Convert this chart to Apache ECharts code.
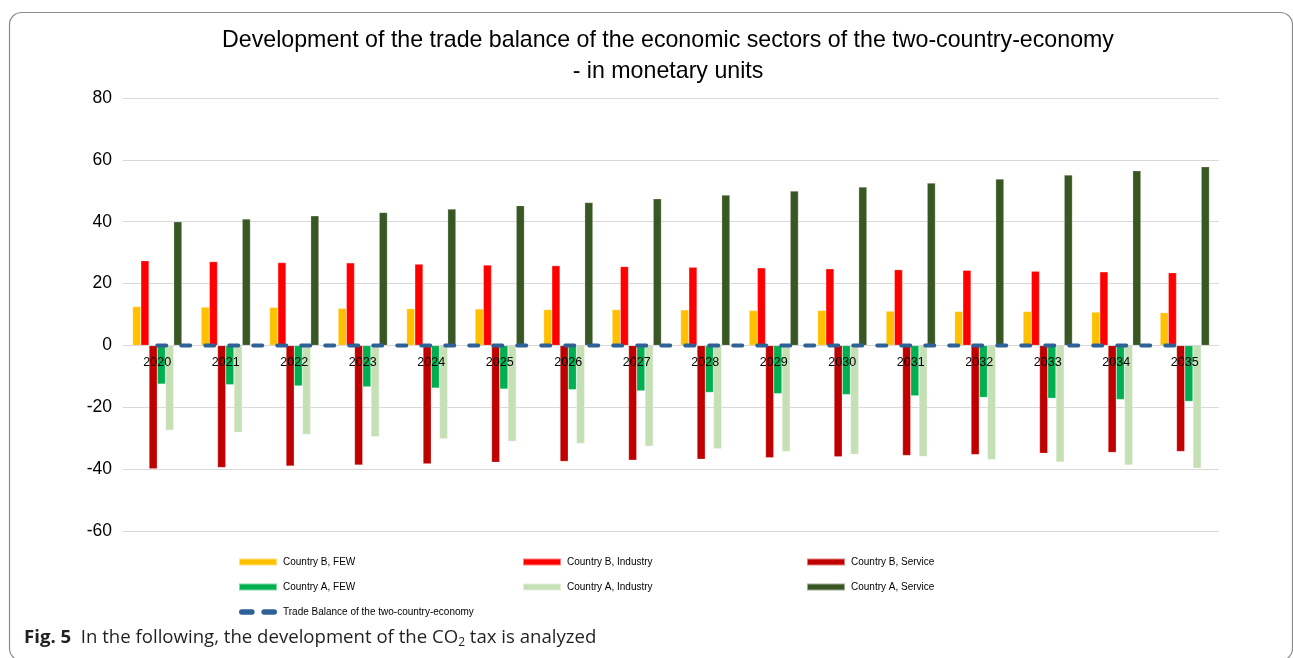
<!DOCTYPE html>
<html>
<head>
<meta charset="utf-8">
<script src="https://cdn.jsdelivr.net/npm/echarts@6/dist/echarts.min.js"></script>
<style>
html,body{margin:0;padding:0;background:#fff;}
#chart{width:1293px;height:658px;}
</style>
</head>
<body>
<div id="chart"></div>
<script>
const years = ['2020','2021','2022','2023','2024','2025','2026','2027','2028','2029','2030','2031','2032','2033','2034','2035'];
const yTicks = [-60,-40,-20,0,20,40,60,80];
const countryB_FEW = [12.6,12.4,12.3,12.0,11.9,11.8,11.6,11.6,11.5,11.3,11.3,11.1,11.0,11.0,10.8,10.6];
const countryB_Industry = [27.4,27.1,26.8,26.7,26.3,26.0,25.8,25.5,25.3,25.1,24.8,24.5,24.3,24.0,23.8,23.5];
const countryB_Service = [-39.9,-39.5,-39.0,-38.7,-38.3,-37.8,-37.5,-37.1,-36.8,-36.3,-36.0,-35.6,-35.3,-34.9,-34.6,-34.3];
const countryA_FEW = [-12.5,-12.7,-13.1,-13.4,-13.8,-14.1,-14.3,-14.7,-15.2,-15.6,-15.9,-16.3,-16.8,-17.1,-17.5,-18.1];
const countryA_Industry = [-27.4,-28.1,-28.8,-29.5,-30.2,-31.0,-31.7,-32.6,-33.4,-34.3,-35.2,-35.9,-36.9,-37.7,-38.7,-39.7];
const countryA_Service = [40.0,40.9,41.9,43.0,44.1,45.2,46.2,47.4,48.6,49.9,51.2,52.5,53.8,55.1,56.5,57.8];
const tradeBalance = [0,0,0,0,0,0,0,0,0,0,0,0,0,0,0,0];

const names = {
  bF: 'Country B, FEW', bI: 'Country B, Industry', bS: 'Country B, Service',
  aF: 'Country A, FEW', aI: 'Country A, Industry', aS: 'Country A, Service',
  tb: 'Trade Balance of the two-country-economy'
};
const FONT = '"Liberation Sans", Arial, sans-serif';
const Y_MIN = -60, Y_MAX = 80;

const chart = echarts.init(document.getElementById('chart'), null, {renderer:'canvas'});

function bar(name, data, color){
  return {name, type:'bar', data, barGap:'0%', barCategoryGap:'28%',
    itemStyle:{color, borderColor:'rgba(255,255,255,0.5)', borderWidth:0.5}, z:2};
}

const legendBase = {
  orient:'vertical', itemWidth:38, itemHeight:7, itemGap:15,
  textStyle:{fontFamily:FONT, fontSize:10, color:'#000', padding:[0,0,0,1]},
  selectedMode:false
};

const gridTop = 98, gridBottom = 127, chartH = 658;
const plotH = chartH - gridTop - gridBottom;
const zeroOffset = -plotH * (0 - Y_MIN) / (Y_MAX - Y_MIN);
const dashIcon = 'path://M2,0 H11 A2,2 0 0 1 11,5 H2 A2,2 0 0 1 2,0 Z M22,0 H31 A2,2 0 0 1 31,5 H22 A2,2 0 0 1 22,0 Z';

chart.setOption({
  animation:false,
  backgroundColor:'#fff',
  title:{
    text:'Development of the trade balance of the economic sectors of the two-country-economy\n- in monetary units',
    left:663, textAlign:'center', top:20,
    textStyle:{fontFamily:FONT, fontSize:23.2, fontWeight:'normal', color:'#000', lineHeight:31}
  },
  grid:{left:123, right:74, top:gridTop, bottom:gridBottom, containLabel:false},
  xAxis:{
    type:'category', data:years, z:3, position:'bottom', offset:zeroOffset,
    axisLine:{onZero:false, lineStyle:{color:'#d9d9d9', width:1}},
    axisTick:{show:false},
    axisLabel:{fontFamily:FONT, fontSize:12.5, color:'#000', margin:11}
  },
  yAxis:{
    type:'value', min:Y_MIN, max:Y_MAX, interval:20,
    axisLine:{show:false}, axisTick:{show:false},
    splitLine:{lineStyle:{color:'#d9d9d9', width:1}},
    axisLabel:{fontFamily:FONT, fontSize:17.5, color:'#000', margin:11,
      formatter:v => yTicks.includes(v) ? String(v) : ''}
  },
  legend:[
    Object.assign({}, legendBase, {left:233, top:552, data:[
      {name:names.bF, icon:'rect'}, {name:names.aF, icon:'rect'}, {name:names.tb, icon:dashIcon}]}),
    Object.assign({}, legendBase, {left:517, top:552, data:[
      {name:names.bI, icon:'rect'}, {name:names.aI, icon:'rect'}]}),
    Object.assign({}, legendBase, {left:801, top:552, data:[
      {name:names.bS, icon:'rect'}, {name:names.aS, icon:'rect'}]})
  ],
  series:[
    bar(names.bF, countryB_FEW, '#FFC000'),
    bar(names.bI, countryB_Industry, '#FF0000'),
    bar(names.bS, countryB_Service, '#C00000'),
    bar(names.aF, countryA_FEW, '#00B050'),
    bar(names.aI, countryA_Industry, '#C5E0B4'),
    bar(names.aS, countryA_Service, '#385723'),
    {name:names.tb, type:'line', data:tradeBalance, symbol:'none', z:4,
      itemStyle:{color:'#2E6196'},
      lineStyle:{color:'#2E6196', width:4, type:[9,15], cap:'round'}}
  ],
  graphic:[
    {type:'rect', left:7, top:10, z:-1, silent:true,
      shape:{width:1283, height:648, r:12},
      style:{fill:'none', stroke:'#8c8c8c', lineWidth:1.2}},
    {type:'text', left:24, top:628, silent:true,
      style:{
        text:'{b|Fig. 5}{n|  In the following, the development of the CO}{s|2}{n| tax is analyzed}',
        rich:{
          b:{fontFamily:'"Open Sans", sans-serif', fontSize:18.6, fontWeight:'bold', fill:'#231f20'},
          n:{fontFamily:'"Open Sans", sans-serif', fontSize:18.6, fill:'#231f20'},
          s:{fontFamily:'"Open Sans", sans-serif', fontSize:12, fill:'#231f20', padding:[10,0,0,0]}
        }
      }}
  ]
});
</script>
</body>
</html>
